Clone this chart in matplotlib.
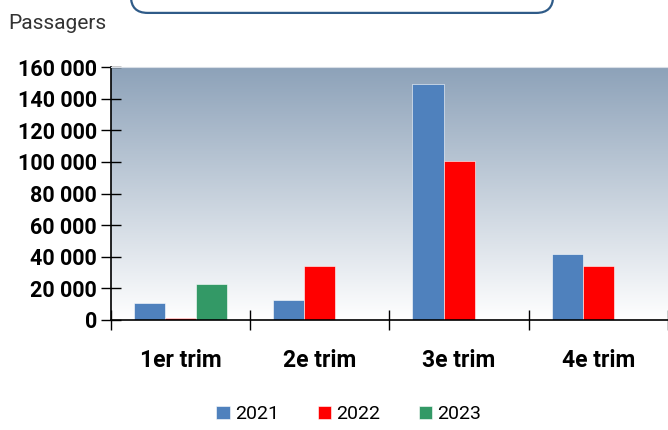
import numpy as np
import matplotlib
matplotlib.use("Agg")
from matplotlib import pyplot as plt
from matplotlib.patches import FancyBboxPatch
from matplotlib.ticker import FuncFormatter, FixedLocator

quarters = ["1er trim", "2e trim", "3e trim", "4e trim"]
years = ["2021", "2022", "2023"]
values_2021 = [11000, 12500, 149000, 42000]
values_2022 = [1500, 34000, 100500, 34000]
values_2023 = [22500, 0, 0, 0]
colors = ["#4F81BD", "#FF0000", "#339966"]

plt.rcParams['font.family'] = ['Roboto', 'DejaVu Sans']

fig = plt.figure(figsize=(6.68, 4.30), dpi=100)
ax = fig.add_axes([0.166, 0.256, 0.834, 0.588])

# gradient background
grad = np.linspace(0, 1, 256).reshape(-1, 1)
top = np.array([141, 162, 185]) / 255
bottom = np.array([1.0, 1.0, 1.0])
img = top + (bottom - top) * grad
ax.imshow(img.reshape(256, 1, 3), extent=[-0.5, 3.5, 0, 160000],
          aspect='auto', zorder=0, origin='upper')

x = np.arange(len(quarters))
w = 0.223
series = [values_2021, values_2022, values_2023]
for i, (vals, col, yr) in enumerate(zip(series, colors, years)):
    ax.bar(x + (i - 1) * w, vals, width=w, color=col, label=yr, zorder=2,
           edgecolor='white', linewidth=0.4)

ax.set_xlim(-0.5, 3.5)
ax.set_ylim(0, 160000)
ax.set_yticks(range(0, 160001, 20000))
ax.yaxis.set_major_formatter(FuncFormatter(lambda v, p: f"{int(v):,}".replace(",", " ")))
ax.xaxis.set_major_locator(FixedLocator([-0.5, 0.5, 1.5, 2.5, 3.5]))
ax.xaxis.set_minor_locator(FixedLocator(x))
ax.set_xticklabels([])
ax.set_xticklabels(quarters, minor=True)
ax.tick_params(axis='x', which='major', direction='inout', length=14, width=1)
ax.tick_params(axis='x', which='minor', length=0, pad=21, labelsize=16.5)
ax.tick_params(axis='y', direction='inout', length=14, width=1, labelsize=15.5, pad=3)
for lab in ax.get_yticklabels() + ax.get_xticklabels(minor=True):
    lab.set_fontweight('bold')

ax.spines['right'].set_visible(False)
ax.spines['top'].set_color('#D8DEE6')
ax.spines['left'].set_linewidth(1.2)
ax.spines['bottom'].set_linewidth(1.2)

fig.text(0.012, 0.945, "Passagers", fontsize=15, color='#333333', va='center')

box = FancyBboxPatch((0.196, 0.97), 0.632, 0.1, boxstyle="round,pad=0,rounding_size=0.025",
                     transform=fig.transFigure, facecolor='white', edgecolor='#2F5B88',
                     linewidth=1.6, mutation_aspect=668 / 430)
fig.patches.append(box)

fig.legend(loc='lower center', bbox_to_anchor=(0.522, -0.025), ncol=3, frameon=False,
           fontsize=14, handlelength=0.7, handleheight=0.7, handletextpad=0.25,
           columnspacing=2.0)

fig.savefig("out.png", dpi=100)
